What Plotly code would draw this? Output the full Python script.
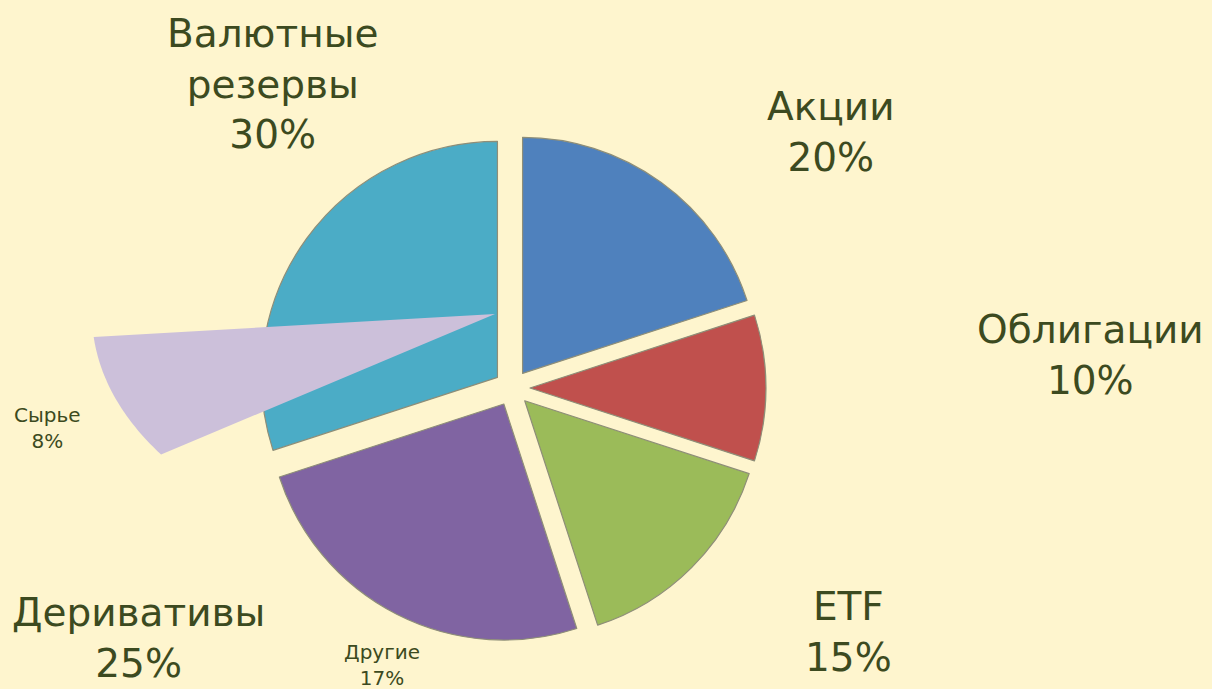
import math
import plotly.graph_objects as go

# ---- data ----
categories = ["Акции", "Облигации", "ETF", "Деривативы", "Валютные резервы"]
values = [20, 10, 15, 25, 30]
extra_categories = ["Сырье", "Другие"]
extra_values = [8, 17]

# ---- styles ----
W, H = 1212, 689
BG = "#FEF5CE"
TXT = "#3C4A20"
FONT = "DejaVu Sans"
slice_colors = ["#4F81BD", "#C0504D", "#9BBB59", "#8064A2", "#4BACC6"]
wedge_color = "#CCC0DA"

# main pie geometry (pixels)
cx, cy = 512, 388
R = 236
pull_px = 18
pull = pull_px / R
half = R * (1 + pull)
dom_x = [(cx - half) / W, (cx + half) / W]
dom_y = [(H - cy - half) / H, (H - cy + half) / H]

fig = go.Figure()

fig.add_trace(go.Pie(
    labels=categories,
    values=values,
    sort=False,
    direction="clockwise",
    rotation=0,
    pull=[pull] * len(values),
    marker=dict(colors=slice_colors, line=dict(color="#8E8E78", width=1.2)),
    textinfo="none",
    hoverinfo="label+percent",
    domain=dict(x=dom_x, y=dom_y),
    showlegend=False,
))

# invisible cartesian trace so that pixel-like axes exist
fig.add_trace(go.Scatter(x=[], y=[], showlegend=False, hoverinfo="skip"))

# "Сырье" wedge: elliptical sector drawn above the pie
ax_, ay_ = 495, 314
rx, ry = 403, 251
span = extra_values[0] / 100 * 360
start = 250.35 - span / 2
pts = []
n = 40
for i in range(n + 1):
    th = math.radians(start + span * i / n)
    pts.append((ax_ + rx * math.sin(th), ay_ - ry * math.cos(th)))
path = f"M {ax_},{ay_} " + " ".join(f"L {x:.2f},{y:.2f}" for x, y in pts) + " Z"
fig.add_shape(type="path", path=path, xref="x", yref="y",
              fillcolor=wedge_color, line=dict(width=0), layer="above")

# labels
big_pos = {
    "Акции": (830, 132),
    "Облигации": (1090, 355),
    "ETF": (848, 632),
    "Деривативы": (138, 638),
    "Валютные резервы": (272, 84),
}
for cat, val in zip(categories, values):
    x, y = big_pos[cat]
    name = cat.replace(" ", "<br>")
    fig.add_annotation(x=x, y=y, xref="x", yref="y", text=f"{name}<br>{val}%",
                       showarrow=False, font=dict(family=FONT, size=39, color=TXT),
                       xanchor="center", yanchor="middle", align="center")

small_pos = {"Сырье": (47, 428), "Другие": (382, 665)}
for cat, val in zip(extra_categories, extra_values):
    x, y = small_pos[cat]
    fig.add_annotation(x=x, y=y, xref="x", yref="y", text=f"{cat}<br>{val}%",
                       showarrow=False, font=dict(family=FONT, size=20, color=TXT),
                       xanchor="center", yanchor="middle", align="center")

fig.update_layout(
    width=W, height=H,
    margin=dict(l=0, r=0, t=0, b=0),
    paper_bgcolor=BG, plot_bgcolor=BG,
    xaxis=dict(range=[0, W], visible=False, fixedrange=True, domain=[0, 1]),
    yaxis=dict(range=[H, 0], visible=False, fixedrange=True, domain=[0, 1]),
    showlegend=False,
)

fig.write_html("out.html",
               config={"displayModeBar": False},
               post_script="document.body.style.margin='0';document.body.style.overflow='hidden';")
